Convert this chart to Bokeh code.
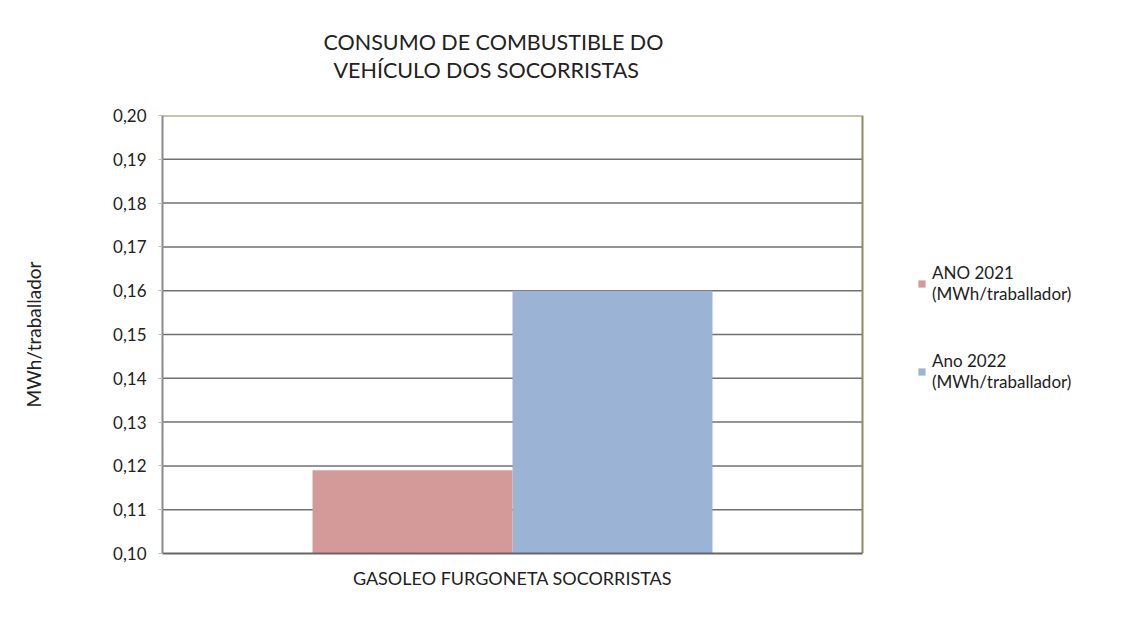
from bokeh.plotting import figure
from bokeh.models import (Range1d, Legend, LegendItem, Title,
                          CustomJSTickFormatter, FixedTicker, ColumnDataSource)
from bokeh.embed import file_html
from bokeh.resources import INLINE

categories = ["GASOLEO FURGONETA SOCORRISTAS"]
series_names = ["ANO 2021\n(MWh/traballador)", "Ano 2022\n(MWh/traballador)"]
values_2021 = [0.119]
values_2022 = [0.160]
colors = ["#d49a9a", "#9bb3d4"]
y_ticks = [0.10, 0.11, 0.12, 0.13, 0.14, 0.15, 0.16, 0.17, 0.18, 0.19, 0.20]

FONT = "Lato"

# layout: plot area spans category slot [0, 1]; extra room on the right for the legend
W, H = 1121, 630
LEFT, RIGHT_EDGE, TOP, BOTTOM = 162, 862, 115, 553
MB_RIGHT = 10
frame_w = W - LEFT - MB_RIGHT
x_end = frame_w / (RIGHT_EDGE - LEFT)

cat_pos = [i + 0.5 for i in range(len(categories))]
bw = 0.2857

src = ColumnDataSource(dict(x21=[c - bw / 2 for c in cat_pos],
                            x22=[c + bw / 2 for c in cat_pos],
                            v21=values_2021, v22=values_2022))

p = figure(width=W, height=H, output_backend="svg", toolbar_location=None,
           x_range=Range1d(0, x_end), y_range=Range1d(y_ticks[0], y_ticks[-1]))
p.min_border_left = LEFT
p.min_border_right = MB_RIGHT
p.min_border_top = TOP
p.min_border_bottom = H - BOTTOM

# grid lines limited to the plotting slot
inner = y_ticks[1:-1]
p.segment(x0=[0] * len(inner), x1=[len(categories)] * len(inner), y0=inner, y1=inner,
          line_color="#707070", line_width=1.5)
p.segment(x0=[0], x1=[len(categories)], y0=[y_ticks[-1]], y1=[y_ticks[-1]],
          line_color="#8c8c5c", line_width=2)
p.segment(x0=[len(categories)], x1=[len(categories)], y0=[y_ticks[0]], y1=[y_ticks[-1]],
          line_color="#8c8c5c", line_width=2)

r1 = p.vbar(x="x21", top="v21", bottom=y_ticks[0], width=bw,
            source=src, fill_color=colors[0], line_color=None)
r2 = p.vbar(x="x22", top="v22", bottom=y_ticks[0], width=bw,
            source=src, fill_color=colors[1], line_color=None)

# titles (stacked: first added is nearest the frame)
spacer = Title(text=" ", text_font_size="1px", standoff=30)
t2 = Title(text="VEHÍCULO DOS SOCORRISTAS", align="left", offset=171,
           text_font=FONT, text_font_size="21.5px", text_font_style="normal",
           text_color="#222222", standoff=0)
t1 = Title(text="CONSUMO DE COMBUSTIBLE DO", align="left", offset=161,
           text_font=FONT, text_font_size="21.5px", text_font_style="normal",
           text_color="#222222", standoff=0)
p.add_layout(spacer, "above")
p.add_layout(t2, "above")
p.add_layout(t1, "above")

# y axis
p.yaxis.ticker = FixedTicker(ticks=y_ticks)
p.yaxis.formatter = CustomJSTickFormatter(code="return tick.toFixed(2).replace('.', ',');")
p.yaxis.major_label_text_font = FONT
p.yaxis.major_label_text_font_size = "17px"
p.yaxis.major_label_text_color = "#222222"
p.yaxis.axis_line_color = "#8a8a8a"
p.yaxis.axis_line_width = 2
p.yaxis.major_tick_line_color = "#bbbbbb"
p.yaxis.major_tick_out = 4
p.yaxis.major_tick_in = 0
p.yaxis.minor_tick_line_color = None
p.yaxis.major_label_standoff = 12
p.yaxis.axis_label = "MWh/traballador"
p.yaxis.axis_label_text_font = FONT
p.yaxis.axis_label_text_font_size = "19px"
p.yaxis.axis_label_text_font_style = "normal"
p.yaxis.axis_label_text_color = "#222222"
p.yaxis.axis_label_standoff = 65

# x axis
p.xaxis.ticker = FixedTicker(ticks=cat_pos)
p.xaxis.major_label_overrides = {c: name for c, name in zip(cat_pos, categories)}
p.xaxis.bounds = (0, len(categories))
p.xaxis.major_label_text_font = FONT
p.xaxis.major_label_text_font_size = "18px"
p.xaxis.major_label_text_color = "#222222"
p.xaxis.axis_line_color = "#666666"
p.xaxis.axis_line_width = 2
p.xaxis.major_tick_line_color = None
p.xaxis.minor_tick_line_color = None
p.xaxis.major_label_standoff = 7

p.xgrid.grid_line_color = None
p.ygrid.grid_line_color = None
p.outline_line_color = None

legend = Legend(items=[LegendItem(label=series_names[0], renderers=[r1]),
                       LegendItem(label=series_names[1], renderers=[r2])],
                location=(755, 161))
legend.label_text_font = FONT
legend.label_text_font_size = "17px"
legend.label_text_color = "#222222"
legend.glyph_width = 9
legend.glyph_height = 9
legend.label_standoff = 6
legend.spacing = 46
legend.padding = 0
legend.margin = 0
legend.border_line_color = None
legend.background_fill_alpha = 0
p.add_layout(legend, "center")

open("out.html", "w").write(file_html(p, INLINE))
